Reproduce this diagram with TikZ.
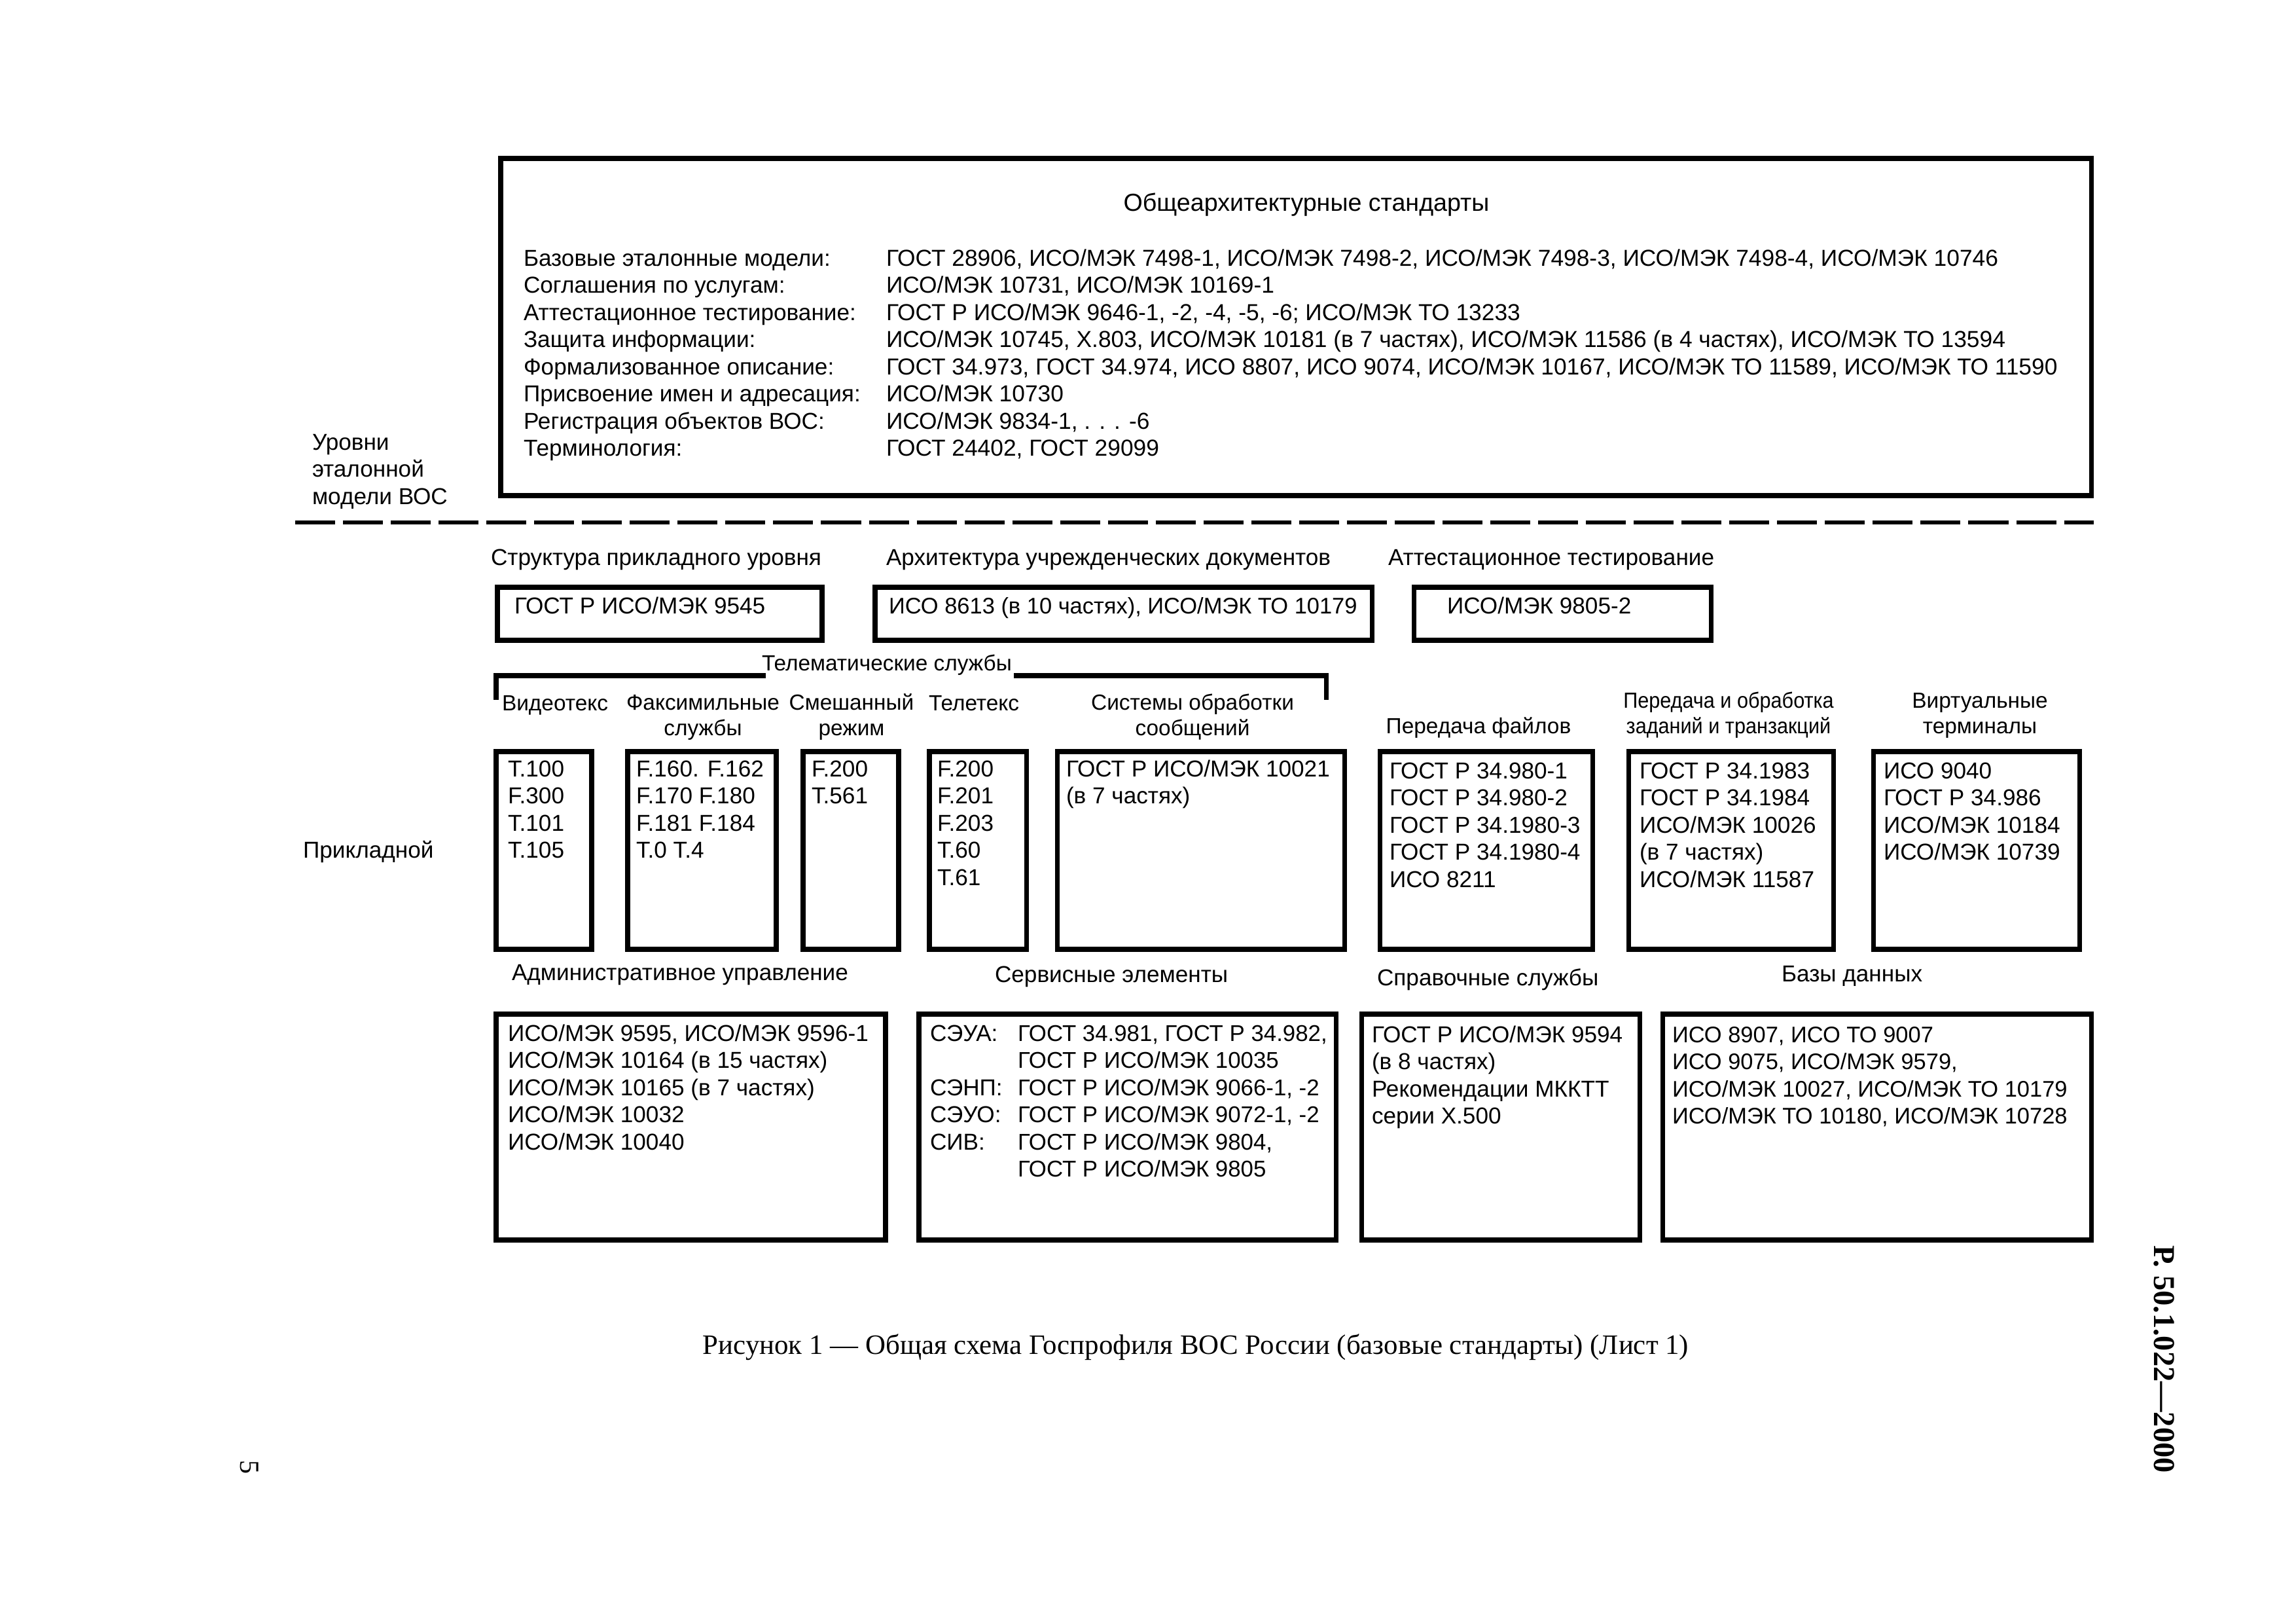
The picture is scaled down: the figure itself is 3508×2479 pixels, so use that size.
\documentclass[tikz,border=0pt]{standalone}
\usepackage{fontspec}
\setmainfont{Liberation Sans}
\newfontfamily\capfont{Liberation Serif}
\newfontfamily\narrowfont[FakeStretch=0.917]{Liberation Sans}
\usetikzlibrary{fit}
\begin{document}
\begin{tikzpicture}[x=0.01cm,y=-0.01cm,
  every node/.style={inner sep=0pt, outer sep=0pt},
  box/.style={draw=black, line width=2pt, rectangle, inner sep=0pt},
  txt/.style={anchor=north west, align=left, font=\fontsize{10}{11.8}\selectfont},
  lbl/.style={anchor=base west, font=\fontsize{10}{11.8}\selectfont},
  slbl/.style={anchor=base west, font=\fontsize{9.5}{10.9}\selectfont},
  hd2/.style={anchor=north, align=center, font=\fontsize{9.5}{10.9}\selectfont},
  brk/.style={line width=2pt, line cap=rect},
  dashline/.style={line width=1.8pt, dash pattern=on 0.61cm off 0.12cm}]
\useasboundingbox (0,0) rectangle (3508,2479);

% ---------- top box ----------
\node[box, fit={(765,242) (3195,757)}] (gen) {};
\node[lbl, anchor=base, font=\fontsize{10.7}{12}\selectfont] (gentitle) at (1996,323) {Общеархитектурные стандарты};
\node[txt] (genlbl) at (800,377) {\strut Базовые эталонные модели:\\Соглашения по услугам:\\Аттестационное тестирование:\\Защита информации:\\Формализованное описание:\\Присвоение имен и адресация:\\Регистрация объектов ВОС:\\Терминология:};
\node[txt, font=\fontsize{10.05}{11.8}\selectfont] (genval) at (1354,377) {\strut ГОСТ 28906, ИСО/МЭК 7498-1, ИСО/МЭК 7498-2, ИСО/МЭК 7498-3, ИСО/МЭК 7498-4, ИСО/МЭК 10746\\ИСО/МЭК 10731, ИСО/МЭК 10169-1\\ГОСТ Р ИСО/МЭК 9646-1, -2, -4, -5, -6; ИСО/МЭК ТО 13233\\ИСО/МЭК 10745, X.803, ИСО/МЭК 10181 (в 7 частях), ИСО/МЭК 11586 (в 4 частях), ИСО/МЭК ТО 13594\\ГОСТ 34.973, ГОСТ 34.974, ИСО 8807, ИСО 9074, ИСО/МЭК 10167, ИСО/МЭК ТО 11589, ИСО/МЭК ТО 11590\\ИСО/МЭК 10730\\ИСО/МЭК 9834-1, . . . -6\\ГОСТ 24402, ГОСТ 29099};

\node[txt] (levels) at (477,658) {\strut Уровни\\эталонной\\модели ВОС};

% ---------- dashed separator ----------
\coordinate (dashL) at (451,798);
\coordinate (dashR) at (3199,798);
\draw[dashline] (dashL) -- (dashR);

% ---------- row 1 ----------
\node[lbl] (h1a) at (750,863) {Структура прикладного уровня};
\node[lbl] (h1b) at (1354,863) {Архитектура учрежденческих документов};
\node[lbl] (h1c) at (2121,863) {Аттестационное тестирование};
\node[box, fit={(760,897) (1256,978)}] (b1a) {};
\node[box, fit={(1337,897) (2096,978)}] (b1b) {};
\node[box, fit={(2160,897) (2614,978)}] (b1c) {};
\node[lbl] (t1a) at (786,937) {ГОСТ Р ИСО/МЭК 9545};
\node[lbl, font=\fontsize{9.8}{11.8}\selectfont] (t1b) at (1358,937) {ИСО 8613 (в 10 частях), ИСО/МЭК ТО 10179};
\node[lbl] (t1c) at (2211,937) {ИСО/МЭК 9805-2};

% ---------- telematic bracket ----------
\node[slbl] (tele) at (1164,1024) {Телематические службы};
\coordinate (brL) at (758,1065);
\coordinate (brR) at (2026,1065);
\draw[brk] (brL) |- (tele.west |- 0,1032) -- (1166,1032);
\draw[brk] (1553,1032) -| (brR);

% ---------- row 2 headings ----------
\node[slbl] (h2a) at (767,1085) {Видеотекс};
\node[hd2] (h2b) at (1074,1058) {\strut Факсимильные\\службы};
\node[hd2] (h2c) at (1301,1058) {\strut Смешанный\\режим};
\node[slbl] (h2d) at (1419,1085) {Телетекс};
\node[hd2] (h2e) at (1822,1058) {\strut Системы обработки\\сообщений};
\node[slbl, anchor=base] (h2f) at (2259,1120) {Передача файлов};
\node[hd2, font=\narrowfont\fontsize{9.5}{10.9}\selectfont] (h2g) at (2641,1055) {\strut Передача и обработка\\заданий и транзакций};
\node[hd2] (h2h) at (3025,1055) {\strut Виртуальные\\терминалы};
\node[lbl] (appl) at (463,1310) {Прикладной};

% ---------- row 2 boxes ----------
\node[box, fit={(758,1148) (904,1450)}] (b2a) {};
\node[box, fit={(959,1148) (1186,1450)}] (b2b) {};
\node[box, fit={(1227,1148) (1373,1450)}] (b2c) {};
\node[box, fit={(1420,1148) (1568,1450)}] (b2d) {};
\node[box, fit={(1615,1148) (2054,1450)}] (b2e) {};
\node[box, fit={(2108,1148) (2433,1450)}] (b2f) {};
\node[box, fit={(2488,1148) (2801,1450)}] (b2g) {};
\node[box, fit={(2862,1148) (3177,1450)}] (b2h) {};
\node[txt] (t2a) at (776,1157) {\strut T.100\\F.300\\T.101\\T.105};
\node[txt] (t2b) at (972,1157) {\strut F.160. F.162\\F.170 F.180\\F.181 F.184\\T.0 T.4};
\node[txt] (t2c) at (1240,1157) {\strut F.200\\T.561};
\node[txt] (t2d) at (1432,1157) {\strut F.200\\F.201\\F.203\\T.60\\T.61};
\node[txt] (t2e) at (1629,1157) {\strut ГОСТ Р ИСО/МЭК 10021\\(в 7 частях)};
\node[txt] (t2f) at (2123,1160) {\strut ГОСТ Р 34.980-1\\ГОСТ Р 34.980-2\\ГОСТ Р 34.1980-3\\ГОСТ Р 34.1980-4\\ИСО 8211};
\node[txt] (t2g) at (2505,1160) {\strut ГОСТ Р 34.1983\\ГОСТ Р 34.1984\\ИСО/МЭК 10026\\(в 7 частях)\\ИСО/МЭК 11587};
\node[txt] (t2h) at (2878,1160) {\strut ИСО 9040\\ГОСТ Р 34.986\\ИСО/МЭК 10184\\ИСО/МЭК 10739};

% ---------- row 3 ----------
\node[lbl] (h3a) at (782,1497) {Административное управление};
\node[lbl] (h3b) at (1520,1500) {Сервисные элементы};
\node[lbl] (h3c) at (2104,1505) {Справочные службы};
\node[lbl] (h3d) at (2722,1499) {Базы данных};
\node[box, fit={(758,1549) (1353,1894)}] (b3a) {};
\node[box, fit={(1404,1549) (2041,1894)}] (b3b) {};
\node[box, fit={(2080,1549) (2505,1894)}] (b3c) {};
\node[box, fit={(2540,1549) (3195,1894)}] (b3d) {};
\node[txt] (t3a) at (776,1561) {\strut ИСО/МЭК 9595, ИСО/МЭК 9596-1\\ИСО/МЭК 10164 (в 15 частях)\\ИСО/МЭК 10165 (в 7 частях)\\ИСО/МЭК 10032\\ИСО/МЭК 10040};
\node[txt] (t3bl) at (1421,1561) {\strut СЭУА:\\\strut\\СЭНП:\\СЭУО:\\СИВ:};
\node[txt, font=\fontsize{9.9}{11.8}\selectfont] (t3bv) at (1555,1561) {\strut ГОСТ 34.981, ГОСТ Р 34.982,\\ГОСТ Р ИСО/МЭК 10035\\ГОСТ Р ИСО/МЭК 9066-1, -2\\ГОСТ Р ИСО/МЭК 9072-1, -2\\ГОСТ Р ИСО/МЭК 9804,\\ГОСТ Р ИСО/МЭК 9805};
\node[txt] (t3c) at (2096,1563) {\strut ГОСТ Р ИСО/МЭК 9594\\(в 8 частях)\\Рекомендации МККТТ\\серии X.500};
\node[txt, font=\fontsize{9.8}{11.8}\selectfont] (t3d) at (2555,1563) {\strut ИСО 8907, ИСО ТО 9007\\ИСО 9075, ИСО/МЭК 9579,\\ИСО/МЭК 10027, ИСО/МЭК ТО 10179\\ИСО/МЭК ТО 10180, ИСО/МЭК 10728};

% ---------- caption and page marks ----------
\node[anchor=base, font=\capfont\fontsize{12.2}{14}\selectfont] (caption) at (1827,2068) {Рисунок 1 — Общая схема Госпрофиля ВОС России (базовые стандарты) (Лист 1)};
\node[rotate=-90, font=\capfont\bfseries\fontsize{13.2}{15}\selectfont] (docno) at (3307,2076) {Р. 50.1.022—2000};
\node[rotate=-90, font=\capfont\fontsize{12}{14}\selectfont] (pageno) at (381,2241) {5};
\end{tikzpicture}
\end{document}
